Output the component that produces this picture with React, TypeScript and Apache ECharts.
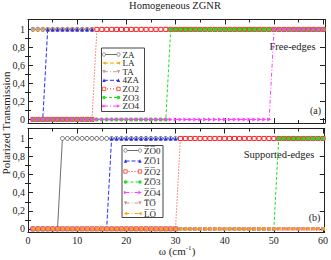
import React, { useEffect, useRef } from "react";
import * as echarts from "echarts";

const xs = [1,2,3,4,5,6,7,8,9,10,11,12,13,14,15,16,17,18,19,20,21,22,23,24,25,26,27,28,29,30,31,32,33,34,35,36,37,38,39,40,41,42,43,44,45,46,47,48,49,50,51,52,53,54,55,56,57,58,59,60];

// Panel (a): free edges
const aZA  = [1,1,1,1,1,1,1,1,1,1,1,1,1,1,1,1,1,1,1,1,1,1,1,1,1,1,1,1,1,1,1,1,1,1,1,1,1,1,1,1,1,1,1,1,1,1,1,1,1,1,1,1,1,1,1,1,1,1,1,1];
const aLA  = [1,1,1,1,1,1,1,1,1,1,1,1,1,1,1,1,1,1,1,1,1,1,1,1,1,1,1,1,1,1,1,1,1,1,1,1,1,1,1,1,1,1,1,1,1,1,1,1,1,1,1,1,1,1,1,1,1,1,1,1];
const aTA  = [1,1,1,1,1,1,1,1,1,1,1,1,1,1,1,1,1,1,1,1,1,1,1,1,1,1,1,1,1,1,1,1,1,1,1,1,1,1,1,1,1,1,1,1,1,1,1,1,1,1,1,1,1,1,1,1,1,1,1,1];
const a4ZA = [0,0,0,1,1,1,1,1,1,1,1,1,1,1,1,1,1,1,1,1,1,1,1,1,1,1,1,1,1,1,1,1,1,1,1,1,1,1,1,1,1,1,1,1,1,1,1,1,1,1,1,1,1,1,1,1,1,1,1,1];
const aZO2 = [0,0,0,0,0,0,0,0,0,0,0,0,0,1,1,1,1,1,1,1,1,1,1,1,1,1,1,1,1,1,1,1,1,1,1,1,1,1,1,1,1,1,1,1,1,1,1,1,1,1,1,1,1,1,1,1,1,1,1,1];
const aZO3 = [0,0,0,0,0,0,0,0,0,0,0,0,0,0,0,0,0,0,0,0,0,0,0,0,0,0,0,0,1,1,1,1,1,1,1,1,1,1,1,1,1,1,1,1,1,1,1,1,1,1,1,1,1,1,1,1,1,1,1,1];
const aZO4 = [0,0,0,0,0,0,0,0,0,0,0,0,0,0,0,0,0,0,0,0,0,0,0,0,0,0,0,0,0,0,0,0,0,0,0,0,0,0,0,0,0,0,0,0,0,0,0,0,0,1,1,1,1,1,1,1,1,1,1,1];

// Panel (b): supported edges
const bZO0 = [0,0,0,0,0,0,1,1,1,1,1,1,1,1,1,1,1,1,1,1,1,1,1,1,1,1,1,1,1,1,1,1,1,1,1,1,1,1,1,1,1,1,1,1,1,1,1,1,1,1,1,1,1,1,1,1,1,1,1,1];
const bZO1 = [0,0,0,0,0,0,0,0,0,0,0,0,0,0,0,0,1,1,1,1,1,1,1,1,1,1,1,1,1,1,1,1,1,1,1,1,1,1,1,1,1,1,1,1,1,1,1,1,1,1,1,1,1,1,1,1,1,1,1,1];
const bZO2 = [0,0,0,0,0,0,0,0,0,0,0,0,0,0,0,0,0,0,0,0,0,0,0,0,0,0,0,0,0,0,1,1,1,1,1,1,1,1,1,1,1,1,1,1,1,1,1,1,1,1,1,1,1,1,1,1,1,1,1,1];
const bZO3 = [0,0,0,0,0,0,0,0,0,0,0,0,0,0,0,0,0,0,0,0,0,0,0,0,0,0,0,0,0,0,0,0,0,0,0,0,0,0,0,0,0,0,0,0,0,0,0,0,0,0,1,1,1,1,1,1,1,1,1,1];
const bZO4 = [0,0,0,0,0,0,0,0,0,0,0,0,0,0,0,0,0,0,0,0,0,0,0,0,0,0,0,0,0,0,0,0,0,0,0,0,0,0,0,0,0,0,0,0,0,0,0,0,0,0,0,0,0,0,0,0,0,0,0,0];
const bTO  = [0,0,0,0,0,0,0,0,0,0,0,0,0,0,0,0,0,0,0,0,0,0,0,0,0,0,0,0,0,0,0,0,0,0,0,0,0,0,0,0,0,0,0,0,0,0,0,0,0,0,0,0,0,0,0,0,0,0,0,0];
const bLO  = [0,0,0,0,0,0,0,0,0,0,0,0,0,0,0,0,0,0,0,0,0,0,0,0,0,0,0,0,0,0,0,0,0,0,0,0,0,0,0,0,0,0,0,0,0,0,0,0,0,0,0,0,0,0,0,0,0,0,0,0];

const namesA = ["ZA", "LA", "TA", "4ZA", "ZO2", "ZO3", "ZO4"];
const OL = "\u0305";
const namesB = ["Z" + OL + "O" + OL + "0", "Z" + OL + "O" + OL + "1", "Z" + OL + "O" + OL + "2", "Z" + OL + "O" + OL + "3", "Z" + OL + "O" + OL + "4", "T" + OL + "O" + OL, "L" + OL + "O" + OL];

const xLabels = [0, 10, 20, 30, 40, 50, 60];
const yMajor = [0, 0.2, 0.4, 0.6, 0.8, 1];
const yMinor = [0.1, 0.3, 0.5, 0.7, 0.9];

const FONT = "'Liberation Serif', 'Times New Roman', serif";
const INK = "#222";

const C = {
  gray: "#6e6e6e",
  orange: "#ffa500",
  tan: "#c49a9a",
  blue: "#2a2aff",
  red: "#ff2a2a",
  green: "#22dd22",
  magenta: "#ff40ff",
};

const SYM: Record<string, string> = {
  circle: "circle",
  rect: "rect",
  tri: "triangle",
  triL: "path://M10,0L0,5L10,10Z",
  triR: "path://M0,0L10,5L0,10Z",
  triD: "path://M0,0L10,0L5,10Z",
};

type Sty = { color: string; kind: string; dash: any; hollow?: boolean };

const styA: Sty[] = [
  { color: C.gray, kind: "circle", dash: "solid", hollow: true },
  { color: C.orange, kind: "triL", dash: [4, 2] },
  { color: C.tan, kind: "triD", dash: [4, 2, 1, 2] },
  { color: C.blue, kind: "tri", dash: [4, 2] },
  { color: C.red, kind: "rect", dash: [1, 2], hollow: true },
  { color: C.green, kind: "circle", dash: [3, 2] },
  { color: C.magenta, kind: "triR", dash: [4, 2, 1, 2] },
];
const styB: Sty[] = [
  { color: C.gray, kind: "circle", dash: "solid", hollow: true },
  { color: C.blue, kind: "tri", dash: [4, 2] },
  { color: C.red, kind: "rect", dash: [1, 2], hollow: true },
  { color: C.green, kind: "circle", dash: [3, 2] },
  { color: C.magenta, kind: "triR", dash: [4, 2, 1, 2] },
  { color: C.tan, kind: "triD", dash: [4, 2, 1, 2] },
  { color: C.orange, kind: "triL", dash: [4, 2, 1, 2] },
];

const valsA = [aZA, aLA, aTA, a4ZA, aZO2, aZO3, aZO4];
const valsB = [bZO0, bZO1, bZO2, bZO3, bZO4, bTO, bLO];

function mkSeries(name: string, vals: number[], s: Sty, xi: number, yi: number) {
  return {
    type: "line",
    name,
    xAxisIndex: xi,
    yAxisIndex: yi,
    data: xs.map((x, i) => [x, vals[i]]),
    symbol: SYM[s.kind],
    symbolSize: 4,
    showSymbol: true,
    lineStyle: { color: s.color, width: 1, type: s.dash },
    itemStyle: s.hollow
      ? { color: "#fff", borderColor: s.color, borderWidth: 1 }
      : { color: s.color, borderWidth: 0 },
  };
}

// legend marker glyph (legend decoration only)
function marker(kind: string, cx: number, cy: number, s: Sty) {
  const r = 1.7;
  const style = s.hollow
    ? { fill: "#fff", stroke: s.color, lineWidth: 0.8 }
    : { fill: s.color, stroke: null as any };
  if (kind === "circle") return { type: "circle", shape: { cx, cy, r }, style };
  if (kind === "rect") return { type: "rect", shape: { x: cx - r, y: cy - r, width: 2 * r, height: 2 * r }, style };
  let pts: number[][] = [];
  if (kind === "tri") pts = [[cx - r, cy + r], [cx + r, cy + r], [cx, cy - r]];
  if (kind === "triD") pts = [[cx - r, cy - r], [cx + r, cy - r], [cx, cy + r]];
  if (kind === "triL") pts = [[cx + r, cy - r], [cx + r, cy + r], [cx - r, cy]];
  if (kind === "triR") pts = [[cx - r, cy - r], [cx - r, cy + r], [cx + r, cy]];
  return { type: "polygon", shape: { points: pts }, style };
}

function legendGraphic(
  names: string[],
  stys: Sty[],
  box: { x: number; y: number; w: number; h: number },
  y0: number,
  step: number,
  lx0: number,
  lx1: number,
  tx: number
) {
  const els: any[] = [
    {
      type: "rect",
      shape: { x: box.x, y: box.y, width: box.w, height: box.h },
      style: { fill: "#fff", stroke: "#444", lineWidth: 1 },
      z: 10,
    },
  ];
  names.forEach((n, i) => {
    const y = y0 + i * step;
    const s = stys[i];
    els.push({
      type: "line",
      shape: { x1: lx0, y1: y, x2: lx1, y2: y },
      style: { stroke: s.color, lineWidth: 1, lineDash: s.dash === "solid" ? null : s.dash },
      z: 11,
    });
    els.push({ ...marker(s.kind, lx0, y, s), z: 12 });
    els.push({ ...marker(s.kind, lx1, y, s), z: 12 });
    els.push({
      type: "text",
      x: tx,
      y,
      style: { text: n, font: `9px ${FONT}`, fill: INK, textAlign: "left", textVerticalAlign: "middle" },
      z: 12,
    });
  });
  return els;
}

function xAxes(grid: number, labels: boolean) {
  const base = {
    type: "value",
    gridIndex: grid,
    min: 0,
    max: 60.35,
    interval: 10,
    axisLine: { show: true, onZero: false, lineStyle: { color: INK, width: 1 } },
    axisTick: { show: true, inside: true, length: 5, lineStyle: { color: INK } },
    minorTick: { show: true, splitNumber: 2, length: 3, lineStyle: { color: INK } },
    splitLine: { show: false },
  };
  return [
    {
      ...base,
      position: "bottom",
      axisLabel: {
        show: labels,
        customValues: xLabels,
        fontFamily: FONT,
        fontSize: 10,
        color: INK,
        margin: 3,
      },
    },
    { ...base, position: "top", axisLabel: { show: false } },
  ];
}

function yAxes(grid: number) {
  const base = {
    type: "value",
    gridIndex: grid,
    min: -0.04,
    max: 1.11,
    splitLine: { show: false },
  };
  const major = (pos: string, label: boolean) => ({
    ...base,
    position: pos,
    axisLine: { show: true, onZero: false, lineStyle: { color: INK, width: 1 } },
    axisTick: { show: true, inside: true, length: 5, customValues: yMajor, lineStyle: { color: INK } },
    axisLabel: {
      show: label,
      customValues: yMajor,
      fontFamily: FONT,
      fontSize: 10,
      color: INK,
      margin: 3,
      formatter: (v: number) => String(Math.round(v * 10) / 10).replace(".", ","),
    },
  });
  const minor = (pos: string) => ({
    ...base,
    position: pos,
    axisLine: { show: false },
    axisTick: { show: true, inside: true, length: 3, customValues: yMinor, lineStyle: { color: INK } },
    axisLabel: { show: false },
  });
  return [major("left", true), minor("left"), major("right", false), minor("right")];
}

export default function App() {
  const ref = useRef<HTMLDivElement>(null);
  useEffect(() => {
    if (!ref.current) return;
    const chart = echarts.init(ref.current, undefined, { renderer: "svg" });
    const series: any[] = [];
    namesA.forEach((n, i) => series.push(mkSeries(n, valsA[i], styA[i], 0, 0)));
    namesB.forEach((n, i) => series.push(mkSeries(n, valsB[i], styB[i], 2, 4)));
    chart.setOption({
      animation: false,
      backgroundColor: "#fff",
      grid: [
        { left: 28, right: 6, top: 19.5, height: 103.5 },
        { left: 28, right: 6, top: 128.5, height: 104 },
      ],
      xAxis: [...xAxes(0, false), ...xAxes(1, true)],
      yAxis: [...yAxes(0), ...yAxes(1)],
      series,
      graphic: [
        ...legendGraphic(namesA, styA, { x: 101.5, y: 48, w: 43, h: 63.5 }, 54.5, 8.6, 104, 118.5, 122.5),
        ...legendGraphic(namesB, styB, { x: 122, y: 145.5, w: 41, h: 72 }, 150.5, 10.5, 125.5, 140, 144),
        {
          type: "text",
          x: 175,
          y: 5.5,
          style: { text: "Homogeneous ZGNR", font: `10.5px ${FONT}`, fill: INK, textAlign: "center", textVerticalAlign: "middle" },
        },
        {
          type: "text",
          x: 6,
          y: 123,
          rotation: Math.PI / 2,
          style: { text: "Polarized Transmission", font: `11px ${FONT}`, fill: INK, textAlign: "center", textVerticalAlign: "middle" },
        },
        {
          type: "text",
          x: 177,
          y: 251,
          style: {
            text: "ω (cm{sup|-1})",
            font: `11px ${FONT}`,
            fill: INK,
            textAlign: "center",
            textVerticalAlign: "middle",
            rich: { sup: { fontFamily: FONT, fontSize: 7, verticalAlign: "top", padding: [0, 0, 6, 0], fill: INK } },
          },
        },
        {
          type: "text",
          x: 292.5,
          y: 46,
          style: { text: "Free-edges", font: `10.5px ${FONT}`, fill: INK, textAlign: "center", textVerticalAlign: "middle" },
        },
        {
          type: "text",
          x: 315.5,
          y: 110,
          style: { text: "(a)", font: `10px ${FONT}`, fill: INK, textAlign: "center", textVerticalAlign: "middle" },
        },
        {
          type: "text",
          x: 279,
          y: 154,
          style: { text: "Supported-edges", font: `10.5px ${FONT}`, fill: INK, textAlign: "center", textVerticalAlign: "middle" },
        },
        {
          type: "text",
          x: 314.5,
          y: 217.5,
          style: { text: "(b)", font: `10px ${FONT}`, fill: INK, textAlign: "center", textVerticalAlign: "middle" },
        },
      ],
    });
    return () => chart.dispose();
  }, []);
  return <div ref={ref} style={{ width: 331, height: 260, position: "absolute", left: 0, top: 0 }} />;
}
